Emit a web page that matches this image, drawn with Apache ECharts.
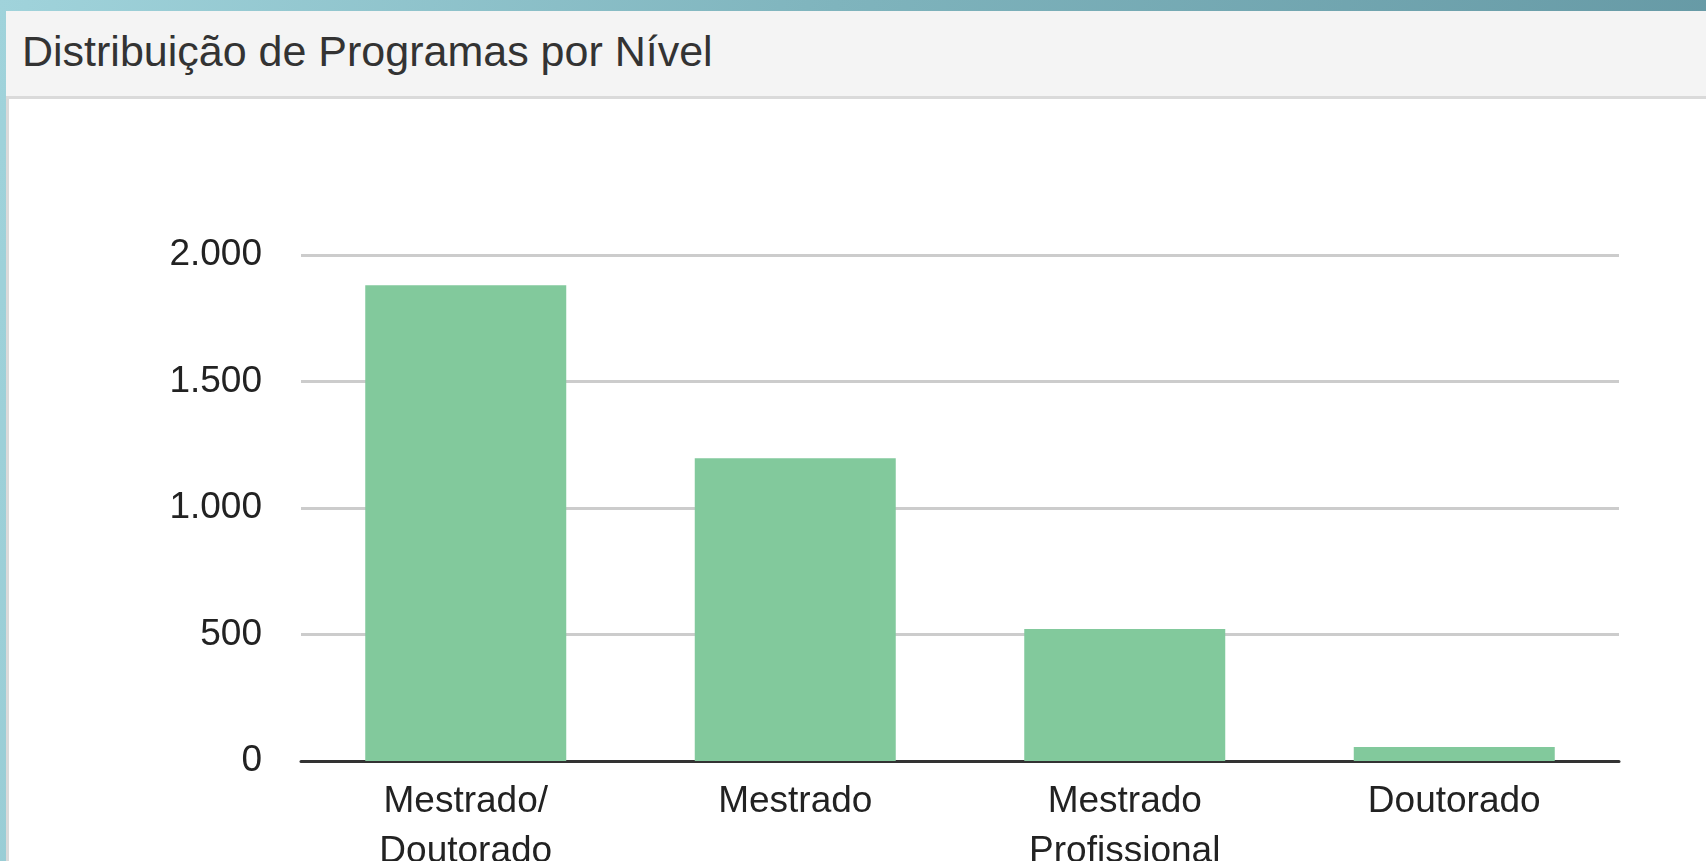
<!DOCTYPE html>
<html>
<head>
<meta charset="utf-8">
<script src="https://cdn.jsdelivr.net/npm/echarts@6/dist/echarts.min.js"></script>
<style>
  html, body {
    margin: 0;
    padding: 0;
    width: 1706px;
    height: 861px;
    overflow: hidden;
    background: linear-gradient(100deg, #a0d3db 0%, #7fb4bd 45%, #6396a2 100%);
    font-family: "Liberation Sans", Arial, sans-serif;
  }
  .panel-head {
    position: absolute;
    left: 6px;
    top: 11px;
    right: 0;
    height: 85px;
    background: #f4f4f4;
    border-bottom: 3px solid #dadada;
  }
  .panel-head .title {
    position: absolute;
    left: 16px;
    top: 19px;
    font-size: 43px;
    line-height: 43px;
    color: #333;
    white-space: nowrap;
  }
  .panel-body {
    position: absolute;
    left: 6px;
    top: 99px;
    right: 0;
    bottom: 0;
    background: #fff;
    border-left: 3px solid #dadada;
  }
  #chart {
    position: absolute;
    left: 9px;
    top: 99px;
    width: 1697px;
    height: 762px;
  }
</style>
</head>
<body>
<div class="panel-head"><div class="title">Distribuição de Programas por Nível</div></div>
<div class="panel-body"></div>
<div id="chart"></div>
<script>
const categories = ['Mestrado/\nDoutorado', 'Mestrado', 'Mestrado\nProfissional', 'Doutorado']
const programas = [1880, 1197, 522, 55]
const yMax = 2000
const yStep = 500

const myChart = echarts.init(document.getElementById('chart'))

const option = {
  animation: false,
  textStyle: { fontFamily: 'Liberation Sans, Arial, sans-serif' },
  grid: {
    left: 292,
    right: 87,
    top: 156,
    bottom: 100,
    containLabel: false,
    outerBoundsMode: 'none',
  },
  xAxis: {
    type: 'category',
    data: categories,
    axisLine: { lineStyle: { color: '#333', width: 3 } },
    axisTick: { show: false },
    axisLabel: {
      color: '#222',
      fontSize: 37,
      lineHeight: 50,
      margin: 16,
      interval: 0,
    },
  },
  yAxis: {
    type: 'value',
    min: 0,
    max: yMax,
    interval: yStep,
    axisLine: { show: false },
    axisTick: { show: false },
    axisLabel: {
      color: '#222',
      fontSize: 37,
      margin: 39,
      padding: [6, 0, 0, 0],
      formatter: (v) => String(v).replace(/\B(?=(\d{3})+(?!\d))/g, '.'),
    },
    splitLine: { lineStyle: { color: '#cccccc', width: 3 } },
  },
  series: [
    {
      name: 'Programas',
      type: 'bar',
      data: programas,
      barCategoryGap: '39%',
      itemStyle: { color: '#82c99c' },
    },
  ],
}

myChart.setOption(option)
</script>
</body>
</html>
